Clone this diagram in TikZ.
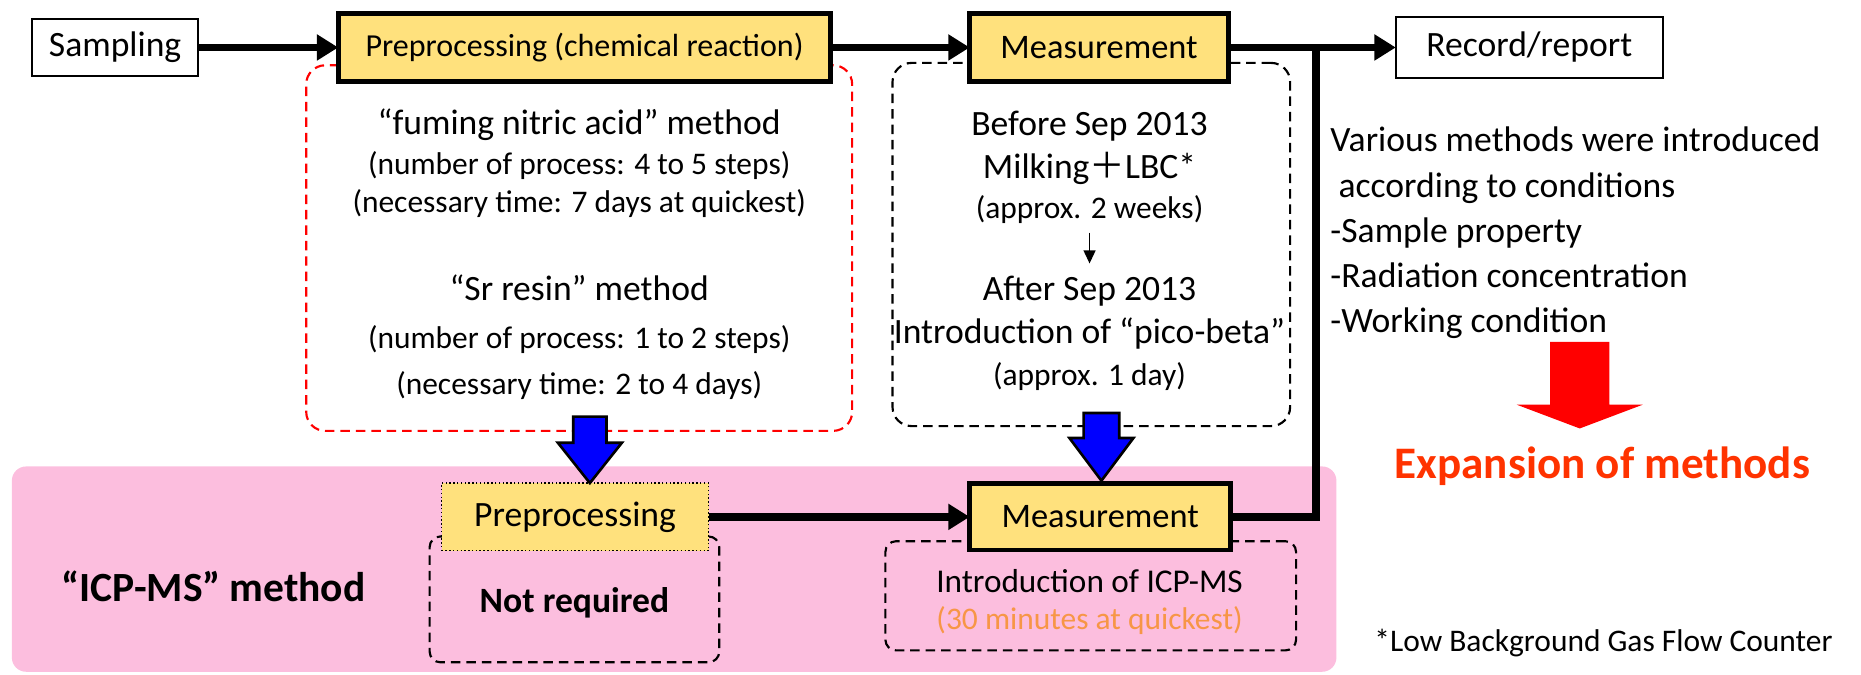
\documentclass[tikz,border=0pt]{standalone}
\usepackage{fontspec}
\setmainfont{Carlito}
\newfontfamily\cjkfont{Noto Sans CJK JP}
\usetikzlibrary{arrows.meta}

\definecolor{boxyellow}{RGB}{255,225,125}
\definecolor{bgpink}{RGB}{252,190,222}
\definecolor{notered}{RGB}{255,51,0}
\definecolor{noteorange}{RGB}{247,150,70}
\definecolor{arrowblue}{RGB}{0,0,255}

\newcommand\sz[2]{\fontsize{#1}{#2}\selectfont}

\begin{document}
\begin{tikzpicture}[x=1pt, y=-1pt,
  every node/.style={inner sep=0pt, outer sep=0pt},
  plainbox/.style={draw, line width=1.6pt, fill=white, font=\sz{30}{36}},
  stagebox/.style={draw, line width=4pt, fill=boxyellow, font=\sz{29}{35}},
  dotbox/.style={draw, line width=1.2pt, dotted, fill=boxyellow, font=\sz{30}{36}},
  groupred/.style={draw=red, line width=1.8pt, dash pattern=on 8pt off 5pt, rounded corners=16pt},
  groupblack/.style={draw=black, line width=1.8pt, dash pattern=on 8pt off 5pt, rounded corners=16pt},
  groupsmall/.style={draw=black, line width=1.8pt, dash pattern=on 8pt off 5pt, rounded corners=9pt},
  flow/.style={line width=6.5pt, -{Triangle[length=18pt, width=21pt]}},
  flowline/.style={line width=6.5pt, line join=miter},
  big/.style={font=\sz{30}{36}, anchor=base},
  small/.style={font=\sz{26.5}{32}, anchor=base},
  side/.style={font=\sz{30}{36}, anchor=base west},
  blockarrow/.style={fill=arrowblue, draw=black, line width=2.2pt, line join=miter},
]
\useasboundingbox (0,0) rectangle (1568,568);

% ICP-MS band
\fill[bgpink, rounded corners=12pt] (10,393) rectangle (1126,566);

% dashed groups holding the method notes
\node[groupred, minimum width=460pt, minimum height=308pt] (grpre) at (488,209) {};
\node[groupblack, minimum width=335pt, minimum height=306pt] (grmeas) at (919.5,206) {};
\node[groupsmall, minimum width=244pt, minimum height=106pt] (grnot) at (484,505) {};
\node[groupsmall, minimum width=346pt, minimum height=92pt] (gricp) at (919,502) {};

% main chain
\node[plainbox, minimum width=140pt, minimum height=48pt] (samp) at (97,40) {Sampling};
\node[stagebox, minimum width=415pt, minimum height=57pt, font=\sz{27}{32}] (pre1) at (492.5,40) {Preprocessing (chemical reaction)};
\node[stagebox, minimum width=218pt, minimum height=57pt] (meas1) at (926,40) {Measurement};
\node[plainbox, minimum width=225pt, minimum height=52pt] (rec) at (1288.5,40) {Record/report};

% ICP-MS chain
\node[dotbox, minimum width=225pt, minimum height=57pt] (pre2) at (484.5,435.5) {Preprocessing};
\node[stagebox, minimum width=220pt, minimum height=56pt] (meas2) at (927,435.5) {Measurement};

\coordinate (jn) at (1109,40);
\draw[flow] (samp) -- (pre1);
\draw[flow] (pre1) -- (meas1);
\draw[flow] (meas1) -- (rec);
\draw[flow] (pre2) -- (meas2);
\draw[flowline] (meas2.east) -| (jn);

% preprocessing notes
\node[big] (fna) at (488,113) {“fuming nitric acid” method};
\node[small] (fna1) at (488,147) {(number of process: 4 to 5 steps)};
\node[small] (fna2) at (488,179) {(necessary time: 7 days at quickest)};
\node[big] (srr) at (488,253) {“Sr resin” method};
\node[small] (srr1) at (488,294) {(number of process: 1 to 2 steps)};
\node[small] (srr2) at (488,332) {(necessary time: 2 to 4 days)};

% measurement notes
\node[big] (bef) at (918,114) {Before Sep 2013};
\node[big] (milk) at (918,150) {Milking{\cjkfont ＋}LBC*};
\node[small] (wk2) at (918,184) {(approx. 2 weeks)};
\coordinate (sa) at (918,196);
\coordinate (sb) at (918,222);
\draw[line width=1.3pt, -{Triangle[length=11pt, width=10pt]}] (sa) -- (sb);
\node[big] (aft) at (918,253) {After Sep 2013};
\node[big] (pico) at (918,289) {Introduction of “pico-beta”};
\node[small] (day1) at (918,325) {(approx. 1 day)};

% block arrows down to the ICP-MS chain
\draw[blockarrow] (483,351) -- (511,351) -- (511,373) -- (524,373) -- (497,407)
  -- (470,373) -- (483,373) -- cycle;
\draw[blockarrow] (913,348) -- (943,348) -- (943,369) -- (955,369) -- (928,405)
  -- (901,369) -- (913,369) -- cycle;

% ICP-MS notes
\node[font=\bfseries\sz{35}{42}, anchor=base] (icp) at (180,507) {“ICP-MS” method};
\node[font=\bfseries\sz{30}{36}, anchor=base] (notreq) at (484,516) {Not required};
\node[font=\sz{28}{34}, anchor=base] (icpin) at (918,499) {Introduction of ICP-MS};
\node[small, text=noteorange] (icpt) at (918,530) {(30 minutes at quickest)};

% conditions on the right
\node[side] (c1) at (1121,128) {Various methods were introduced};
\node[side] (c2) at (1121,166) {\ according to conditions};
\node[side] (c3) at (1121,204) {-Sample property};
\node[side] (c4) at (1121,242) {-Radiation concentration};
\node[side] (c5) at (1121,280) {-Working condition};

\fill[red] (1306,288) -- (1356,288) -- (1356,341) -- (1384,341) -- (1331,361)
  -- (1278,341) -- (1306,341) -- cycle;
\node[font=\bfseries\sz{38}{45}, text=notered, anchor=base] (exp) at (1350,403) {Expansion of methods};

\node[font=\sz{26.5}{32}, anchor=base west] (foot) at (1158,549) {*Low Background Gas Flow Counter};
\end{tikzpicture}
\end{document}
